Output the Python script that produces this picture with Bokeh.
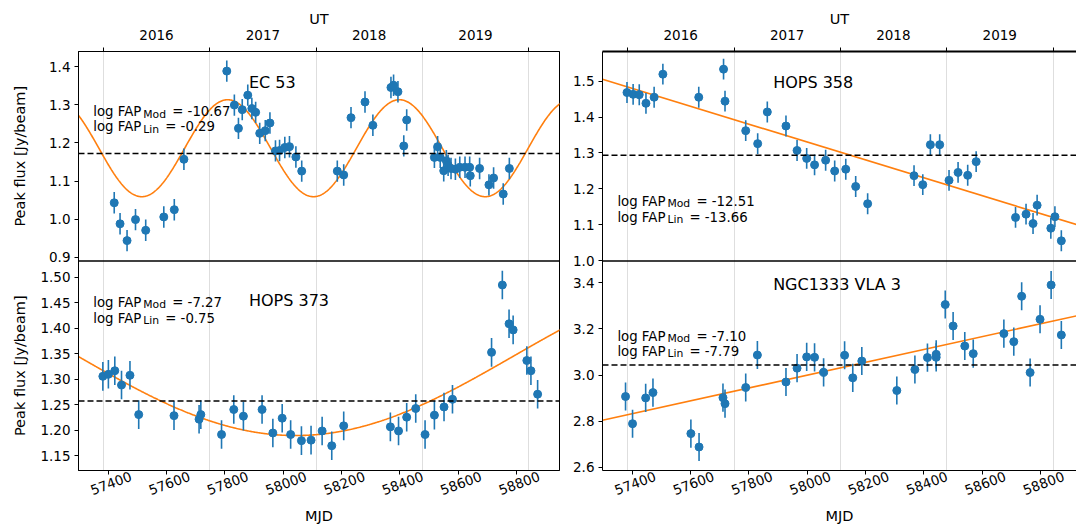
import numpy as np
from bokeh.plotting import figure
from bokeh.layouts import row
from bokeh.models import Range1d, LinearAxis, FixedTicker, Label, Grid, Span
from bokeh.embed import file_html
from bokeh.resources import INLINE

# ---------------- data ----------------
year_labels = ["2016", "2017", "2018", "2019"]
year_bounds_mjd = [57383, 57749, 58113, 58478, 58843]
mjd_ticks = [57400, 57600, 57800, 58000, 58200, 58400, 58600, 58800]

panel_names = ["EC 53", "HOPS 358", "HOPS 373", "NGC1333 VLA 3"]
log_fap_mod = [-10.67, -12.51, -7.27, -7.10]
log_fap_lin = [-0.29, -13.66, -0.75, -7.79]

ec53_mjd = [57421, 57441, 57465, 57494, 57529, 57591, 57627, 57660, 57807, 57833,
            57847, 57860, 57879, 57893, 57906, 57920, 57939, 57955, 57974, 57988,
            58006, 58022, 58044, 58064, 58186, 58208, 58233, 58281, 58308, 58370,
            58379, 58394, 58414, 58424, 58519, 58530, 58539, 58551, 58560, 58566,
            58576, 58591, 58606, 58624, 58640, 58642, 58674, 58706, 58722, 58755,
            58776]
ec53_flux = [1.043, 0.988, 0.944, 0.999, 0.971, 1.006, 1.025, 1.157, 1.388, 1.299,
             1.238, 1.287, 1.325, 1.290, 1.280, 1.225, 1.232, 1.252, 1.179, 1.180,
             1.188, 1.190, 1.163, 1.126, 1.126, 1.116, 1.266, 1.307, 1.246, 1.345,
             1.351, 1.334, 1.192, 1.260, 1.162, 1.190, 1.162, 1.127, 1.153, 1.141,
             1.133, 1.131, 1.136, 1.136, 1.136, 1.114, 1.133, 1.090, 1.108, 1.066,
             1.133]
ec53_err = 0.028
ec53_mean = 1.172
ec53_model = dict(mean=1.186, amp=0.127, period=589.0, peak_mjd=57810.0)
ec53_ticks = [0.9, 1.0, 1.1, 1.2, 1.3, 1.4]

h373_mjd = [57382, 57401, 57423, 57446, 57475, 57505, 57626, 57712, 57718, 57789,
            57831, 57864, 57928, 57965, 57997, 58026, 58063, 58096, 58134, 58167,
            58208, 58368, 58396, 58424, 58455, 58487, 58519, 58552, 58581, 58715,
            58752, 58775, 58789, 58836, 58850, 58873]
h373_flux = [1.306, 1.310, 1.317, 1.289, 1.308, 1.231, 1.229, 1.222, 1.231, 1.192,
             1.241, 1.228, 1.241, 1.195, 1.224, 1.192, 1.180, 1.181, 1.199, 1.170,
             1.209, 1.207, 1.199, 1.226, 1.243, 1.192, 1.230, 1.246, 1.261, 1.353,
             1.485, 1.409, 1.397, 1.337, 1.317, 1.271]
h373_err = 0.028
h373_mean = 1.2575
h373_model = dict(mean=1.3465, amp=0.1565, period=3000.0, min_mjd=58043.0)
h373_ticks = [1.15, 1.20, 1.25, 1.30, 1.35, 1.40, 1.45, 1.50]

h358_mjd = [57382, 57403, 57424, 57447, 57475, 57505, 57628, 57713, 57718, 57789,
            57830, 57863, 57927, 57965, 57998, 58025, 58063, 58094, 58132, 58166,
            58207, 58366, 58396, 58422, 58454, 58486, 58517, 58550, 58579, 58714,
            58750, 58774, 58788, 58835, 58849, 58871]
h358_flux = [1.468, 1.463, 1.462, 1.438, 1.455, 1.519, 1.455, 1.533, 1.444, 1.362,
             1.326, 1.414, 1.375, 1.307, 1.285, 1.267, 1.280, 1.250, 1.255, 1.207,
             1.159, 1.237, 1.212, 1.323, 1.323, 1.224, 1.246, 1.238, 1.276, 1.121,
             1.130, 1.104, 1.155, 1.091, 1.123, 1.056]
h358_err = 0.029
h358_mean = 1.2936
h358_lin_mjd = [57298, 58923]
h358_lin_flux = [1.5047, 1.101]
h358_ticks = [1.0, 1.1, 1.2, 1.3, 1.4, 1.5]

vla3_mjd = [57377, 57401, 57446, 57471, 57601, 57629, 57711, 57718, 57789, 57829,
            57927, 57965, 57998, 58025, 58056, 58128, 58156, 58187, 58307, 58369,
            58412, 58442, 58442, 58473, 58500, 58540, 58569, 58674, 58708, 58735,
            58764, 58798, 58836, 58871]
vla3_flux = [2.907, 2.789, 2.901, 2.924, 2.746, 2.688, 2.902, 2.876, 2.946, 3.087,
             2.970, 3.030, 3.079, 3.077, 3.012, 3.086, 2.988, 3.061, 2.933, 3.024,
             3.076, 3.077, 3.090, 3.306, 3.213, 3.126, 3.093, 3.180, 3.145, 3.342,
             3.011, 3.242, 3.391, 3.174]
vla3_err = 0.061
vla3_mean = 3.044
vla3_lin_mjd = [57298, 58923]
vla3_lin_flux = [2.804, 3.257]
vla3_ticks = [2.6, 2.8, 3.0, 3.2, 3.4]

# ---------------- style / layout ----------------
BLUE = "#1f77b4"
ORANGE = "#ff7f0e"
FONT = "DejaVu Sans"
TICK_FS = "13.5px"
LABEL_FS = "14.5px"
YLABEL = "Peak flux [Jy/beam]"

year_mids = [(a + b) // 2 for a, b in zip(year_bounds_mjd[:-1], year_bounds_mjd[1:])]
MJD_LABEL_SHIFT = 79  # days: rotated label centred under its tick

XR_LEFT = (57298.5, 58948.0)
XR_RIGHT = (57298.0, 58923.0)
YLIM_TL = (0.8906, 1.4393)
YLIM_BL = (1.1215, 1.532)
YLIM_TR = (0.9999, 1.582)
YLIM_BR = (2.586, 3.495)

x_name_mjd = 57883
x_fap_mjd = 57349

MB_TOP, MB_BOTTOM, H = 51, 58, 528


def style_axis(ax):
    ax.axis_line_color = "black"
    ax.axis_line_width = 1
    ax.major_tick_line_color = "black"
    ax.minor_tick_line_color = "black"
    ax.major_label_text_font = FONT
    ax.major_label_text_font_size = TICK_FS
    ax.major_label_text_color = "black"
    ax.axis_label_text_font = FONT
    ax.axis_label_text_font_size = LABEL_FS
    ax.axis_label_text_font_style = "normal"
    ax.axis_label_text_color = "black"
    ax.major_tick_in = 0
    ax.major_tick_out = 4
    ax.minor_tick_in = 0
    ax.minor_tick_out = 0
    ax.major_label_standoff = 4


def make_col(width, xr, ylim_top, ylim_bot, mb_left, mb_right, outline, top_line_w):
    # each panel occupies one half of the shared frame
    top_rng = (ylim_top[0] - (ylim_top[1] - ylim_top[0]), ylim_top[1])
    bot_rng = (ylim_bot[0], ylim_bot[1] + (ylim_bot[1] - ylim_bot[0]))
    p = figure(width=width, height=H, x_range=Range1d(*xr), y_range=Range1d(0, 1),
               x_axis_type=None, y_axis_type=None, toolbar_location=None, tools="",
               output_backend="svg",
               min_border_left=mb_left, min_border_right=mb_right,
               min_border_top=MB_TOP, min_border_bottom=MB_BOTTOM)
    p.extra_y_ranges = {"top": Range1d(*top_rng), "bot": Range1d(*bot_rng)}
    p.outline_line_color = "black" if outline else None
    p.outline_line_width = 1
    p.background_fill_color = "white"
    p.border_fill_color = "white"
    p.add_layout(Grid(dimension=0, ticker=FixedTicker(ticks=year_bounds_mjd),
                      grid_line_color="#dedede", grid_line_width=1))
    # divider between the two panels
    p.add_layout(Span(location=0.5, dimension="width", line_color="black", line_width=1.6))

    # top UT axis
    top = LinearAxis(ticker=FixedTicker(ticks=year_mids, minor_ticks=year_bounds_mjd),
                     major_label_overrides={m: l for m, l in zip(year_mids, year_labels)},
                     axis_label="UT")
    style_axis(top)
    top.major_tick_out = 0
    top.minor_tick_out = 4
    top.major_label_standoff = 8
    top.axis_label_standoff = 0
    top.axis_line_width = top_line_w
    p.add_layout(top, "above")

    # bottom MJD axis: tick marks at the values, rotated labels centred under them
    lab_pos = [t + MJD_LABEL_SHIFT for t in mjd_ticks]
    bot = LinearAxis(ticker=FixedTicker(ticks=lab_pos, minor_ticks=mjd_ticks),
                     major_label_overrides={q: str(t) for q, t in zip(lab_pos, mjd_ticks)},
                     axis_label="MJD")
    style_axis(bot)
    bot.major_tick_out = 0
    bot.minor_tick_out = 4
    bot.major_label_orientation = 0.36
    bot.major_label_standoff = 1
    bot.axis_label_standoff = 5
    p.add_layout(bot, "below")
    return p


def add_left_axis(p, ticks_top, fmt_top, ylim_top, ticks_bot, fmt_bot, ylim_bot):
    # one axis carrying the ticks of both stacked panels
    pos, overrides = [], {}
    for t in ticks_top:
        v = 0.5 + 0.5 * (t - ylim_top[0]) / (ylim_top[1] - ylim_top[0])
        pos.append(v)
        overrides[v] = fmt_top % t
    for t in ticks_bot:
        v = 0.5 * (t - ylim_bot[0]) / (ylim_bot[1] - ylim_bot[0])
        pos.append(v)
        overrides[v] = fmt_bot % t
    ax = LinearAxis(ticker=FixedTicker(ticks=pos), major_label_overrides=overrides)
    style_axis(ax)
    p.add_layout(ax, "left")


def add_points(p, mjd, flux, err, rname):
    mjd = np.asarray(mjd, dtype=float)
    flux = np.asarray(flux, dtype=float)
    p.segment(x0=mjd, y0=flux - err, x1=mjd, y1=flux + err, line_color=BLUE,
              line_width=1.6, y_range_name=rname)
    p.scatter(mjd, flux, size=8, fill_color=BLUE, line_color=BLUE, y_range_name=rname)


def add_mean(p, level, rname):
    p.add_layout(Span(location=level, dimension="width", line_color="black",
                      line_width=1.5, line_dash="6 3", y_range_name=rname))


def add_texts(p, idx, rname, y_name, y1, y2):
    p.add_layout(Label(x=x_name_mjd, y=y_name, y_range_name=rname, text=panel_names[idx],
                       text_font=FONT, text_font_size="16px", text_color="black",
                       text_baseline="alphabetic"))
    rows = [(y1, "Mod", log_fap_mod[idx], 79), (y2, "Lin", log_fap_lin[idx], 72)]
    for y, sub, val, eq_off in rows:
        p.add_layout(Label(x=x_fap_mjd, y=y, y_range_name=rname, text="log FAP",
                           text_font=FONT, text_font_size="13.3px", text_color="black",
                           text_baseline="alphabetic"))
        p.add_layout(Label(x=x_fap_mjd, y=y, y_range_name=rname, x_offset=50, y_offset=-2.5,
                           text=sub, text_font=FONT, text_font_size="10.8px",
                           text_color="black", text_baseline="alphabetic"))
        p.add_layout(Label(x=x_fap_mjd, y=y, y_range_name=rname, x_offset=eq_off,
                           text="= %.2f" % val, text_font=FONT, text_font_size="13.3px",
                           text_color="black", text_baseline="alphabetic"))


xm = np.linspace(57250, 59000, 900)

# ================= y-axis titles strip =================
LAB_W = 34
lab = figure(width=LAB_W, height=H, x_range=Range1d(0, LAB_W), y_range=Range1d(0, 1),
             x_axis_type=None, y_axis_type=None, toolbar_location=None, tools="",
             output_backend="svg", min_border_left=0, min_border_right=0,
             min_border_top=MB_TOP, min_border_bottom=MB_BOTTOM)
lab.outline_line_color = None
lab.background_fill_color = "white"
lab.border_fill_color = "white"
for yc in (0.75, 0.25):
    lab.add_layout(Label(x=19, y=yc, angle=np.pi / 2, text=YLABEL, text_align="center",
                         text_baseline="middle", text_font=FONT, text_font_size=LABEL_FS,
                         text_color="black"))

# ================= left column: EC 53 (top), HOPS 373 (bottom) =================
left = make_col(570 - LAB_W, XR_LEFT, YLIM_TL, YLIM_BL, 78 - LAB_W, 11, True, 1)
add_left_axis(left, ec53_ticks, "%.1f", YLIM_TL, h373_ticks, "%.2f", YLIM_BL)

add_mean(left, ec53_mean, "top")
ym = ec53_model["mean"] + ec53_model["amp"] * np.cos(
    2 * np.pi * (xm - ec53_model["peak_mjd"]) / ec53_model["period"])
left.line(xm, ym, line_color=ORANGE, line_width=1.6, y_range_name="top")
add_points(left, ec53_mjd, ec53_flux, ec53_err, "top")
add_texts(left, 0, "top", 1.358, 1.2814, 1.2421)

add_mean(left, h373_mean, "bot")
ym2 = h373_model["mean"] - h373_model["amp"] * np.cos(
    2 * np.pi * (xm - h373_model["min_mjd"]) / h373_model["period"])
left.line(xm, ym2, line_color=ORANGE, line_width=1.6, y_range_name="bot")
add_points(left, h373_mjd, h373_flux, h373_err, "bot")
add_texts(left, 2, "bot", 1.4544, 1.4511, 1.4198)

# ================= right column: HOPS 358 (top), NGC1333 VLA 3 (bottom) =================
right = make_col(506, XR_RIGHT, YLIM_TR, YLIM_BR, 32, 0, False, 2)
add_left_axis(right, h358_ticks, "%.1f", YLIM_TR, vla3_ticks, "%.1f", YLIM_BR)

add_mean(right, h358_mean, "top")
right.line(h358_lin_mjd, h358_lin_flux, line_color=ORANGE, line_width=1.6, y_range_name="top")
add_points(right, h358_mjd, h358_flux, h358_err, "top")
add_texts(right, 1, "top", 1.497, 1.166, 1.122)

add_mean(right, vla3_mean, "bot")
right.line(vla3_lin_mjd, vla3_lin_flux, line_color=ORANGE, line_width=1.6, y_range_name="bot")
add_points(right, vla3_mjd, vla3_flux, vla3_err, "bot")
add_texts(right, 3, "bot", 3.393, 3.168, 3.103)

layout = row(lab, left, right)

open("out.html", "w").write(file_html(layout, INLINE))
